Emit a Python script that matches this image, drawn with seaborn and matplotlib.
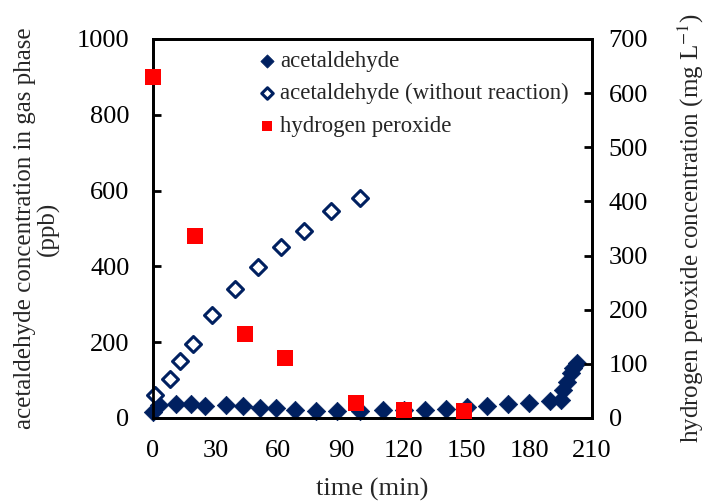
"""Acetaldehyde and hydrogen peroxide concentration over time (dual axis)."""

import matplotlib

matplotlib.use("Agg")
import matplotlib.pyplot as plt
import pandas as pd
import seaborn as sns

# acetaldehyde in gas phase (ppb), with reaction
ACET_TIME = [0, 3, 11, 18, 25, 35, 43, 51, 59, 68, 78, 88, 99, 110, 120, 130,
             140, 150, 160, 170, 180, 190, 195, 196, 198, 200, 201, 203]
ACET_PPB = [17, 34, 37, 37, 32, 34, 32, 26, 26, 21, 19, 19, 19, 20, 21, 21,
            23, 30, 32, 37, 40, 46, 47, 74, 96, 118, 131, 144]

# acetaldehyde without reaction (ppb)
BLANK_TIME = [1, 8, 13, 19, 28, 39, 50, 61, 72, 85, 99]
BLANK_PPB = [60, 102, 150, 196, 272, 340, 398, 450, 494, 547, 580]

# hydrogen peroxide (mg/L), right axis
H2O2_TIME = [0, 20, 44, 63, 97, 120, 149]
H2O2_MGL = [630, 337, 155, 110, 27, 14, 12]

X_TICKS = [0, 30, 60, 90, 120, 150, 180, 210]
LEFT_TICKS = [0, 200, 400, 600, 800, 1000]
RIGHT_TICKS = [0, 100, 200, 300, 400, 500, 600, 700]

NAVY = "#002060"
RED = "#FF0000"


def main() -> None:
    sns.set_theme(style="white")
    plt.rcParams["font.family"] = ["Liberation Serif", "DejaVu Serif"]
    plt.rcParams["mathtext.fontset"] = "stix"

    acet = pd.DataFrame({"time": ACET_TIME, "conc": ACET_PPB})
    blank = pd.DataFrame({"time": BLANK_TIME, "conc": BLANK_PPB})
    h2o2 = pd.DataFrame({"time": H2O2_TIME, "conc": H2O2_MGL})

    fig = plt.figure(figsize=(7.06, 5.03), dpi=100)
    ax = fig.add_axes([0.2167, 0.169, 0.6218, 0.7535])
    ax2 = ax.twinx()

    sns.scatterplot(data=acet, x="time", y="conc", ax=ax, marker="D", s=88,
                    color=NAVY, edgecolor=NAVY, linewidth=0.5,
                    label="acetaldehyde", zorder=3, clip_on=False)
    sns.scatterplot(data=blank, x="time", y="conc", ax=ax, marker="D", s=66,
                    facecolor="white", edgecolor=NAVY, linewidth=2.2,
                    label="acetaldehyde (without reaction)", zorder=3,
                    clip_on=False)
    sns.scatterplot(data=h2o2, x="time", y="conc", ax=ax2, marker="s", s=120,
                    color=RED, edgecolor=RED, linewidth=0,
                    label="hydrogen peroxide", zorder=3, clip_on=False)

    ax.set_xlim(0, 210)
    ax.set_ylim(0, 1000)
    ax2.set_ylim(0, 700)
    ax.set_xticks(X_TICKS)
    ax.set_yticks(LEFT_TICKS)
    ax2.set_yticks(RIGHT_TICKS)

    for a in (ax, ax2):
        for side in a.spines.values():
            side.set_color("black")
            side.set_linewidth(2.0)
        a.tick_params(direction="in", length=6, width=2.0, labelsize=19,
                      colors="black")
    ax.tick_params(axis="x", pad=16)
    ax.tick_params(axis="y", pad=17)
    ax2.tick_params(axis="y", pad=12)

    ax.set_xlabel("time (min)", fontsize=19, labelpad=11)
    ax.set_ylabel("acetaldehyde concentration in gas phase\n(ppb)",
                  fontsize=18, labelpad=12, linespacing=1.05)
    ax2.set_ylabel("hydrogen peroxide concentration (mg L$^{-1}$)",
                   fontsize=18, labelpad=20)

    handles, labels = ax.get_legend_handles_labels()
    h2, l2 = ax2.get_legend_handles_labels()
    if ax2.get_legend() is not None:
        ax2.get_legend().remove()
    ax.legend(handles + h2, labels + l2, loc="upper left",
              bbox_to_anchor=(0.365, 0.899), bbox_transform=fig.transFigure,
              frameon=False, fontsize=16.4, markerscale=0.72,
              handletextpad=0.2, handlelength=0.8, labelspacing=0.5,
              borderaxespad=0, borderpad=0)

    fig.savefig("out.png", dpi=100)
    plt.close(fig)


if __name__ == "__main__":
    main()
